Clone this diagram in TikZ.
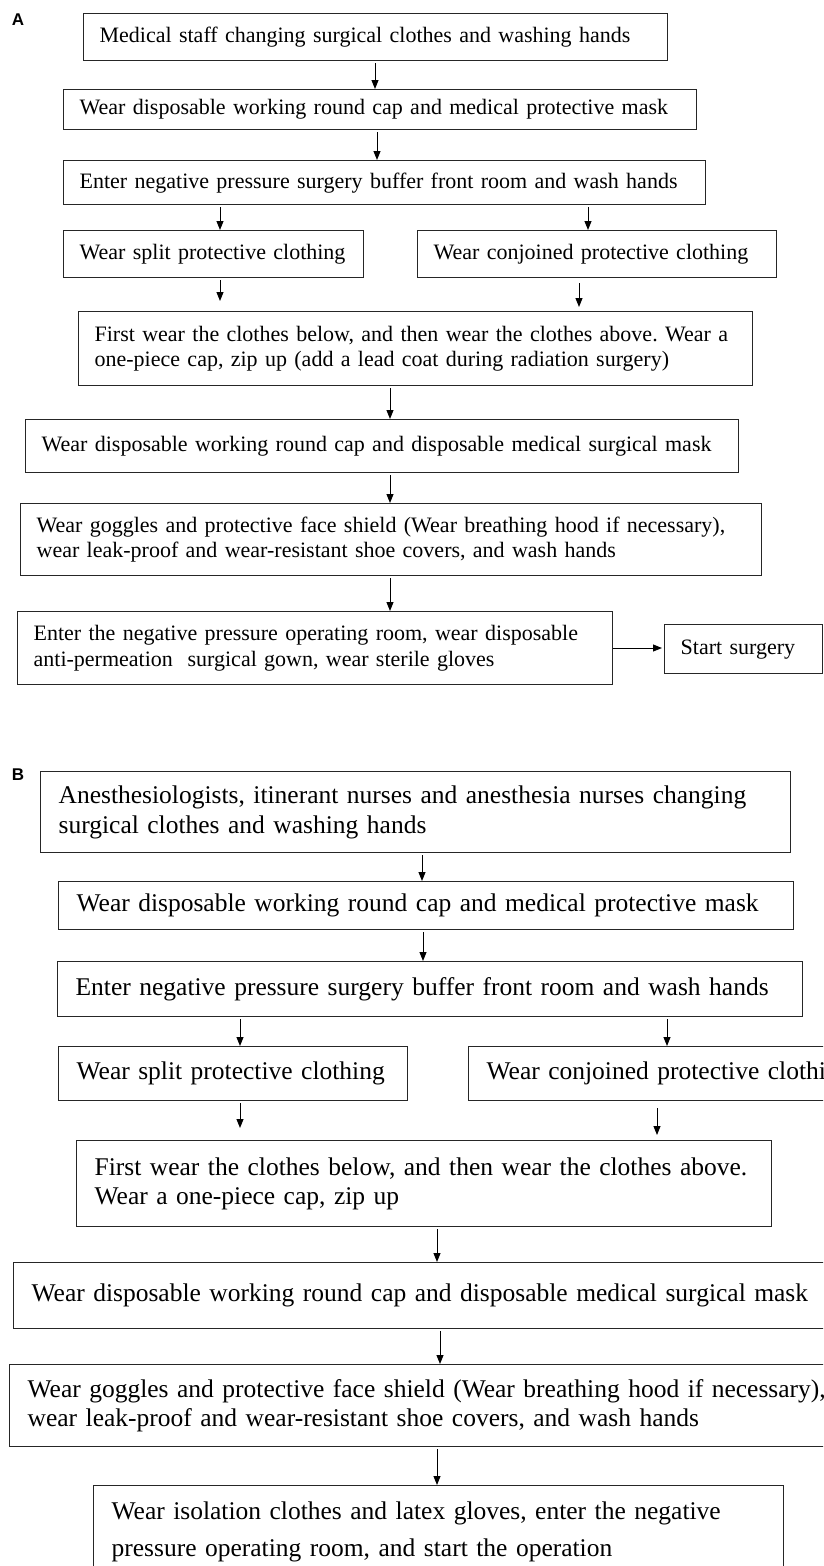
\documentclass[tikz,border=0pt]{standalone}
\usepackage{fontspec}
\setmainfont{Liberation Serif}
\setsansfont{Liberation Sans}
\usetikzlibrary{arrows.meta}
\frenchspacing

\begin{document}
\begin{tikzpicture}[x=1pt,y=-1pt,>={Triangle[length=9pt,width=7pt]},line width=1pt]
\tikzstyle{box}=[draw=black!85,line width=1.3pt,anchor=north west,align=left,inner ysep=0pt]
\tikzstyle{boxa}=[box,inner xsep=16pt,font=\fontsize{22}{25.5}\selectfont]
\tikzstyle{boxb}=[box,inner xsep=18pt,font=\fontsize{25.5}{29.5}\selectfont]
\tikzstyle{flow}=[->,shorten <=2pt]
\tikzstyle{tag}=[font=\sffamily\bfseries\fontsize{17}{17}\selectfont]

\useasboundingbox (0,0) rectangle (823,1566);
\clip (0,0) rectangle (823,1566);

% part A
\node[tag] (ta) at (18,20) {A};
\node[boxa,text width=552pt,minimum height=47pt] (a1) at (83,13) {Medical staff changing surgical clothes and washing hands};
\node[boxa,text width=601pt,minimum height=40pt] (a2) at (63,89) {Wear disposable working round cap and medical protective mask};
\node[boxa,text width=610pt,minimum height=44pt] (a3) at (63,160) {Enter negative pressure surgery buffer front room and wash hands};
\node[boxa,text width=268pt,minimum height=47pt] (a4a) at (63,230) {Wear split protective clothing};
\node[boxa,text width=327pt,minimum height=47pt] (a4b) at (417,230) {Wear conjoined protective clothing};
\node[boxa,text width=642pt,minimum height=74pt] (a5) at (78,311) {First wear the clothes below, and then wear the clothes above. Wear a\\one-piece cap, zip up (add a lead coat during radiation surgery)};
\node[boxa,text width=681pt,minimum height=53pt] (a6) at (25,419) {Wear disposable working round cap and disposable medical surgical mask};
\node[boxa,text width=709pt,minimum height=72pt] (a7) at (20,503) {Wear goggles and protective face shield (Wear breathing hood if necessary),\\wear leak-proof and wear-resistant shoe covers, and wash hands};
\node[boxa,text width=563pt,minimum height=73pt] (a8) at (17,611) {Enter the negative pressure operating room, wear disposable\\anti-permeation\ \ surgical gown, wear sterile gloves};
\node[boxa,text width=126pt,minimum height=49pt] (a9) at (664,624) {Start surgery};

\draw[flow] (375,0 |- a1.south) -- (375,0 |- a2.north);
\draw[flow] (377,0 |- a2.south) -- (377,0 |- a3.north);
\draw[flow] (220,0 |- a3.south) -- (220,0 |- a4a.north);
\draw[flow] (588,0 |- a3.south) -- (588,0 |- a4b.north);
\draw[flow,shorten >=10pt] (220,0 |- a4a.south) -- (220,0 |- a5.north);
\draw[flow,shorten <=5pt,shorten >=4pt] (579,0 |- a4b.south) -- (579,0 |- a5.north);
\draw[flow] (390,0 |- a5.south) -- (390,0 |- a6.north);
\draw[flow] (390,0 |- a6.south) -- (390,0 |- a7.north);
\draw[flow] (390,0 |- a7.south) -- (390,0 |- a8.north);
\draw[->,shorten >=2pt] (a8.east |- 0,648) -- (a9.west |- 0,648);

% part B
\node[tag] (tb) at (18,775) {B};
\node[boxb,text width=714pt,minimum height=81pt] (b1) at (40,771) {Anesthesiologists, itinerant nurses and anesthesia nurses changing\\surgical clothes and washing hands};
\node[boxb,text width=699pt,minimum height=48pt] (b2) at (58,881) {Wear disposable working round cap and medical protective mask};
\node[boxb,text width=709pt,minimum height=55pt] (b3) at (57,961) {Enter negative pressure surgery buffer front room and wash hands};
\node[boxb,text width=313pt,minimum height=54pt] (b4a) at (58,1046) {Wear split protective clothing};
\node[boxb,text width=384pt,minimum height=54pt] (b4b) at (468,1046) {Wear conjoined protective clothing};
\node[boxb,text width=659pt,minimum height=86pt] (b5) at (76,1140) {First wear the clothes below, and then wear the clothes above.\\Wear a one-piece cap, zip up};
\node[boxb,text width=824pt,minimum height=66pt] (b6) at (13,1262) {Wear disposable working round cap and disposable medical surgical mask};
\node[boxb,text width=824pt,minimum height=82pt] (b7) at (9,1364) {Wear goggles and protective face shield (Wear breathing hood if necessary),\\wear leak-proof and wear-resistant shoe covers, and wash hands};
\node[boxb,text width=654pt,minimum height=92pt,font=\fontsize{25.5}{37}\selectfont] (b8) at (93,1485) {Wear isolation clothes and latex gloves, enter the negative\\pressure operating room, and start the operation};

\draw[flow] (422,0 |- b1.south) -- (422,0 |- b2.north);
\draw[flow] (423,0 |- b2.south) -- (423,0 |- b3.north);
\draw[flow] (240,0 |- b3.south) -- (240,0 |- b4a.north);
\draw[flow] (667,0 |- b3.south) -- (667,0 |- b4b.north);
\draw[flow,shorten >=12pt] (240,0 |- b4a.south) -- (240,0 |- b5.north);
\draw[flow,shorten <=7pt,shorten >=5pt] (657,0 |- b4b.south) -- (657,0 |- b5.north);
\draw[flow] (437,0 |- b5.south) -- (437,0 |- b6.north);
\draw[flow] (440,0 |- b6.south) -- (440,0 |- b7.north);
\draw[flow] (437,0 |- b7.south) -- (437,0 |- b8.north);
\end{tikzpicture}
\end{document}
